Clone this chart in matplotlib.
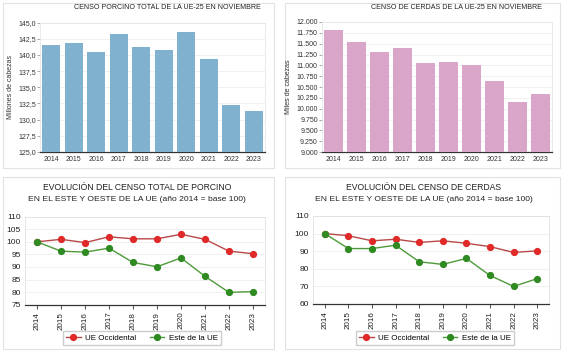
import matplotlib
matplotlib.use("Agg")
import matplotlib.pyplot as plt
from matplotlib.patches import Rectangle
from matplotlib.ticker import FuncFormatter
import numpy as np

plt.rcParams['font.family'] = ['Liberation Sans', 'DejaVu Sans']

years = ['2014', '2015', '2016', '2017', '2018', '2019', '2020', '2021', '2022', '2023']
porcino_total = [141.6, 141.9, 140.4, 143.2, 141.2, 140.8, 143.6, 139.3, 132.2, 131.4]
cerdas_total = [11810, 11550, 11300, 11410, 11045, 11075, 11005, 10630, 10155, 10335]
porc_occ = [100, 101.0, 99.7, 102.0, 101.2, 101.2, 103.0, 101.0, 96.3, 95.3]
porc_este = [100, 96.3, 95.9, 97.5, 91.8, 90.1, 93.6, 86.3, 79.9, 80.2]
cerd_occ = [100, 98.8, 95.9, 96.8, 95.0, 95.9, 94.5, 92.6, 89.3, 90.2]
cerd_este = [100, 91.5, 91.5, 93.4, 84.0, 82.5, 85.9, 76.2, 70.0, 74.4]

fig = plt.figure(figsize=(5.64, 3.52), dpi=100)
W, H = 564, 352

def fr(x0, y0, x1, y1):
    return [x0 / W, 1 - y1 / H, (x1 - x0) / W, (y1 - y0) / H]

# panel boxes
for (x0, y0, x1, y1) in [(3, 3, 274, 168), (285, 3, 560, 168), (3, 177, 274, 349), (285, 177, 560, 349)]:
    fig.patches.append(Rectangle((x0 / W, 1 - y1 / H), (x1 - x0) / W, (y1 - y0) / H,
                                 transform=fig.transFigure, facecolor='white',
                                 edgecolor='#e2e2e2', linewidth=0.8, zorder=-1))

x = np.arange(len(years))

def bar_panel(rect, vals, color, ylim, step, fmt, ylabel, title, tx):
    ax = fig.add_axes(fr(*rect))
    ax.bar(x, vals, width=0.8, color=color, zorder=3)
    ax.set_xlim(-0.5, 9.5)
    ax.set_ylim(*ylim)
    ax.set_yticks(np.arange(ylim[0], ylim[1] + step / 2, step))
    ax.yaxis.set_major_formatter(FuncFormatter(fmt))
    ax.set_xticks(x)
    ax.set_xticklabels(years)
    ax.tick_params(axis='both', labelsize=5, length=0, pad=3, colors='#333333')
    ax.tick_params(axis='y', length=2, width=0.5, color='#888888', pad=1)
    ax.grid(axis='y', color='#eeeeee', linewidth=0.6, zorder=0)
    for s in ['top', 'right', 'left']:
        ax.spines[s].set_color('#e6e6e6')
        ax.spines[s].set_linewidth(0.6)
    ax.spines['bottom'].set_color('#333333')
    ax.spines['bottom'].set_linewidth(0.9)
    ax.set_ylabel(ylabel, fontsize=5, color='#333333', labelpad=3)
    fig.text(tx / W, 1 - 7.5 / H, title, fontsize=5.1, ha='center', va='center', color='#222222')
    return ax

bar_panel((40, 22.5, 265, 152), porcino_total, '#80b1cf', (125, 145), 2.5,
          lambda v, p: f"{v:.1f}".replace('.', ','), 'Millones de cabezas',
          'CENSO PORCINO TOTAL DE LA UE-25 EN NOVIEMBRE', 167)
bar_panel((322, 22, 552, 152), cerdas_total, '#d9a5c9', (9000, 12000), 250,
          lambda v, p: f"{int(v):,}".replace(',', '.'), 'Miles de cabezas',
          'CENSO DE CERDAS DE LA UE-25 EN NOVIEMBRE', 456)

def line_panel(rect, occ, este, ylim, step, title1, title2, tx, legx):
    ax = fig.add_axes(fr(*rect))
    ax.plot(x, occ, color='#b84848', linewidth=1.0, marker='o', markersize=4.2,
            markerfacecolor='#e02a2a', markeredgecolor='#e02a2a', label='UE Occidental', zorder=4)
    ax.plot(x, este, color='#4e9a3a', linewidth=1.0, marker='o', markersize=4.2,
            markerfacecolor='#2f8a22', markeredgecolor='#2f8a22', label='Este de la UE', zorder=4)
    ax.set_xlim(-0.5, 9.5)
    ax.set_ylim(*ylim)
    ax.set_yticks(np.arange(ylim[0], ylim[1] + step / 2, step))
    ax.set_xticks(x)
    ax.set_xticklabels(years, rotation=90)
    ax.tick_params(axis='y', labelsize=6, length=0, pad=3, colors='#222222')
    ax.tick_params(axis='x', labelsize=5.8, length=3, width=0.6, color='#333333', pad=2, colors='#222222')
    ax.grid(axis='y', color='#eeeeee', linewidth=0.6, zorder=0)
    for s in ['top', 'right', 'left']:
        ax.spines[s].set_color('#e0e0e0')
        ax.spines[s].set_linewidth(0.6)
    ax.spines['bottom'].set_color('#333333')
    ax.spines['bottom'].set_linewidth(0.9)
    fig.text(tx / W, 1 - 187.5 / H, title1, fontsize=6.2, ha='center', va='center', color='#222222')
    fig.text(tx / W, 1 - 199.5 / H, title2, fontsize=6.1, ha='center', va='center', color='#222222')
    h, l = ax.get_legend_handles_labels()
    fig.legend(h, l, loc='center', bbox_to_anchor=(legx / W, 1 - 338 / H), ncol=2,
               fontsize=5.8, frameon=True, edgecolor='#cccccc', fancybox=False,
               handlelength=1.8, handletextpad=0.6, columnspacing=1.6,
               borderpad=0.4, framealpha=1)
    return ax

line_panel((25, 216.7, 265, 304.7), porc_occ, porc_este, (75, 110), 5,
           'EVOLUCIÓN DEL CENSO TOTAL DE PORCINO',
           'EN EL ESTE Y OESTE DE LA UE (año 2014 = base 100)', 137, 142)
line_panel((313, 216, 549, 304), cerd_occ, cerd_este, (60, 110), 10,
           'EVOLUCIÓN DEL CENSO DE CERDAS',
           'EN EL ESTE Y OESTE DE LA UE (año 2014 = base 100)', 424, 435)

fig.savefig('out.png', dpi=100)
